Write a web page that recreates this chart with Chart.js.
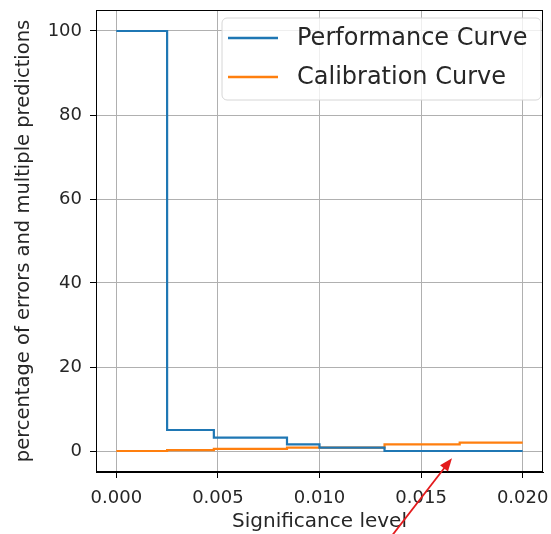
<!DOCTYPE html>
<html>
<head>
<meta charset="utf-8">
<script src="https://cdn.jsdelivr.net/npm/chart.js@4/dist/chart.umd.min.js"></script>
<style>
  html, body { margin: 0; padding: 0; background: #fff; }
  #wrap { width: 551px; height: 534px; }
</style>
</head>
<body>
<div id="wrap"><canvas id="curveChart" width="551" height="534"></canvas></div>
<script>
// Data
const perfX = [0, 0.0025, 0.0048, 0.0084, 0.0100, 0.0132, 0.0200];
const perfY = [100, 5.0, 3.2, 1.6, 0.8, 0.0, 0.0];
const calX = [0, 0.0025, 0.0048, 0.0084, 0.0132, 0.0169, 0.0200];
const calY = [0.0, 0.2, 0.5, 0.8, 1.6, 2.0, 2.0];
const xTicks = [0, 0.005, 0.010, 0.015, 0.020];
const yTicks = [0, 20, 40, 60, 80, 100];
const seriesLabels = ['Performance Curve', 'Calibration Curve'];

const blueColor = '#1f77b4',
  orangeColor = '#ff7f0e',
  gridColor = '#b0b0b0',
  textColor = '#262626',
  fontFamily = '"DejaVu Sans", sans-serif';

function toPoints(xs, ys) {
  return xs.map(function(x, i) { return { x: x, y: ys[i] }; });
}

// frame, legend and red arrow
const extrasPlugin = {
  id: 'extras',
  afterDraw: function(chart) {
    const ctx = chart.ctx, area = chart.chartArea;
    ctx.save();
    ctx.strokeStyle = '#000';
    ctx.lineWidth = 1;
    ctx.strokeRect(area.left + 0.5, area.top + 0.5, area.right - area.left - 1, area.bottom - area.top - 1);

    // legend box
    const bx = 222, by = 18, bw = 319, bh = 82, r = 5;
    ctx.beginPath();
    ctx.moveTo(bx + r, by);
    ctx.arcTo(bx + bw, by, bx + bw, by + bh, r);
    ctx.arcTo(bx + bw, by + bh, bx, by + bh, r);
    ctx.arcTo(bx, by + bh, bx, by, r);
    ctx.arcTo(bx, by, bx + bw, by, r);
    ctx.closePath();
    ctx.fillStyle = 'rgba(255,255,255,0.8)';
    ctx.fill();
    ctx.strokeStyle = '#d6d6d6';
    ctx.stroke();
    ctx.font = '24px ' + fontFamily;
    ctx.textBaseline = 'middle';
    chart.data.datasets.forEach(function(ds, i) {
      const ly = 38 + i * 39;
      ctx.strokeStyle = ds.borderColor;
      ctx.lineWidth = 2.5;
      ctx.beginPath();
      ctx.moveTo(228, ly);
      ctx.lineTo(278, ly);
      ctx.stroke();
      ctx.fillStyle = textColor;
      ctx.fillText(ds.label, 297, ly + 1);
    });

    // red arrow
    const xs = chart.scales.x, ys = chart.scales.y;
    const tx = xs.getPixelForValue(0.01652), ty = ys.getPixelForValue(-1.7);
    const sx = xs.getPixelForValue(0.01356), sy = ys.getPixelForValue(-20.2);
    const ang = Math.atan2(ty - sy, tx - sx);
    ctx.strokeStyle = '#e31a1c';
    ctx.fillStyle = '#e31a1c';
    ctx.lineWidth = 1.8;
    ctx.beginPath();
    ctx.moveTo(sx, sy);
    ctx.lineTo(tx - 10 * Math.cos(ang), ty - 10 * Math.sin(ang));
    ctx.stroke();
    ctx.beginPath();
    ctx.moveTo(tx, ty);
    ctx.lineTo(tx - 13 * Math.cos(ang) + 5 * Math.sin(ang), ty - 13 * Math.sin(ang) - 5 * Math.cos(ang));
    ctx.lineTo(tx - 13 * Math.cos(ang) - 5 * Math.sin(ang), ty - 13 * Math.sin(ang) + 5 * Math.cos(ang));
    ctx.closePath();
    ctx.fill();
    ctx.restore();
  }
};

const curveChart = new Chart(document.getElementById('curveChart'), {
  type: 'line',
  data: {
    datasets: [
      {
        label: seriesLabels[0],
        data: toPoints(perfX, perfY),
        borderColor: blueColor,
        borderWidth: 2.2,
        pointRadius: 0,
        stepped: true,
        fill: false
      },
      {
        label: seriesLabels[1],
        data: toPoints(calX, calY),
        borderColor: orangeColor,
        borderWidth: 2.2,
        pointRadius: 0,
        stepped: true,
        fill: false
      }
    ]
  },
  options: {
    responsive: false,
    animation: false,
    layout: { padding: { top: 10, right: 8, left: 0, bottom: 0 } },
    plugins: {
      legend: { display: false },
      tooltip: { enabled: false }
    },
    scales: {
      x: {
        type: 'linear',
        min: -0.001,
        max: 0.021,
        afterBuildTicks: function(scale) {
          scale.ticks = xTicks.map(function(v) { return { value: v }; });
        },
        afterFit: function(scale) {
          scale.height = 62;
          scale.paddingLeft = 0;
          scale.paddingRight = 0;
        },
        ticks: {
          color: textColor,
          font: { family: fontFamily, size: 18 },
          padding: 10,
          maxRotation: 0,
          callback: function(v) { return v.toFixed(3); }
        },
        grid: { color: gridColor, lineWidth: 1, tickColor: '#000', tickLength: 6 },
        border: { display: true, color: '#000', width: 1 },
        title: {
          display: true,
          text: 'Significance level',
          color: textColor,
          font: { family: fontFamily, size: 20 },
          padding: { top: 0, bottom: 0 }
        }
      },
      y: {
        type: 'linear',
        min: -5,
        max: 105,
        afterBuildTicks: function(scale) {
          scale.ticks = yTicks.map(function(v) { return { value: v }; });
        },
        afterFit: function(scale) {
          scale.width = 96;
          scale.paddingTop = 0;
          scale.paddingBottom = 0;
        },
        ticks: {
          color: textColor,
          font: { family: fontFamily, size: 18 },
          padding: 8
        },
        grid: { color: gridColor, lineWidth: 1, tickColor: '#000', tickLength: 6 },
        border: { display: true, color: '#000', width: 1 },
        title: {
          display: true,
          text: 'percentage of errors and multiple predictions',
          color: textColor,
          font: { family: fontFamily, size: 19.5 },
          padding: { top: 12, bottom: 0 }
        }
      }
    }
  },
  plugins: [extrasPlugin]
});
</script>
</body>
</html>
